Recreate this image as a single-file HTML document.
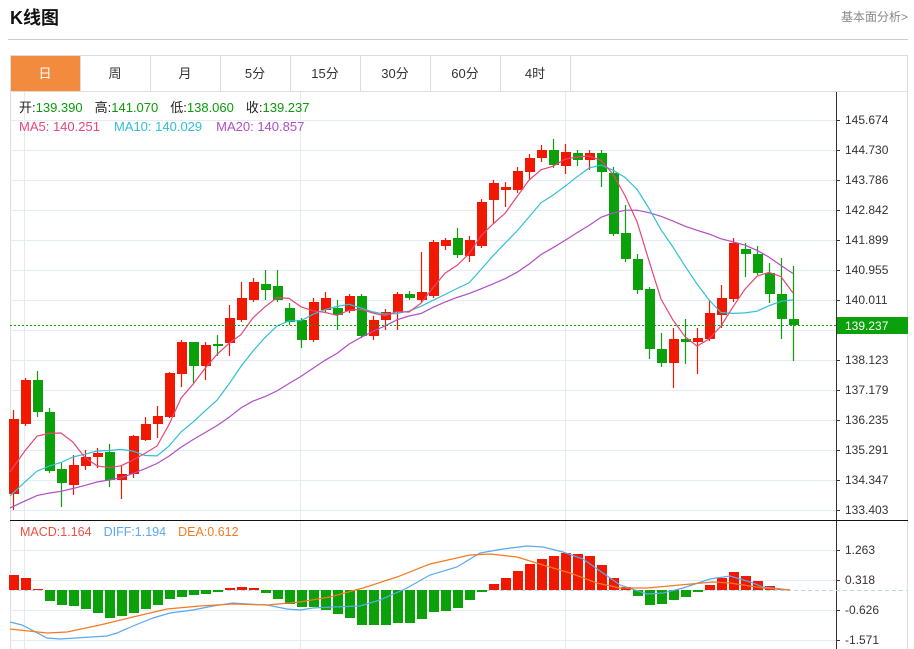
<!DOCTYPE html>
<html><head><meta charset="utf-8"><style>
body{margin:0;background:#fff;width:914px;height:649px;overflow:hidden;font-family:"Liberation Sans","Noto Sans CJK SC",sans-serif;}
svg{position:absolute;left:0;top:0}
</style></head><body>
<svg id="s" width="914" height="649" xmlns="http://www.w3.org/2000/svg" font-family="Liberation Sans, Noto Sans CJK SC, sans-serif">
<text x="10" y="24" font-size="18" font-weight="bold" fill="#111">K线图</text>
<text x="908" y="21" font-size="12" fill="#888" text-anchor="end">基本面分析&gt;</text>
<line x1="8" y1="39.5" x2="908" y2="39.5" stroke="#ccc"/>
<rect x="10.5" y="55.5" width="897" height="600" fill="none" stroke="#ddd"/>
<line x1="10" y1="91.5" x2="908" y2="91.5" stroke="#ddd"/>
<rect x="11" y="56" width="69" height="35" fill="#f38b3e"/>
<g id="tabs" font-size="13" fill="#333" text-anchor="middle"></g>
<g id="grid"></g>
<g id="plot"></g>
<text x="19" y="112" font-size="13"><tspan fill="#222">开:</tspan><tspan fill="#0a9a0a">139.390</tspan><tspan fill="#222" dx="12">高:</tspan><tspan fill="#0a9a0a">141.070</tspan><tspan fill="#222" dx="12">低:</tspan><tspan fill="#0a9a0a">138.060</tspan><tspan fill="#222" dx="12">收:</tspan><tspan fill="#0a9a0a">139.237</tspan></text>
<text x="19" y="131" font-size="13"><tspan fill="#e8457a">MA5: 140.251</tspan><tspan fill="#2fc0d8" dx="14">MA10: 140.029</tspan><tspan fill="#b04fc4" dx="14">MA20: 140.857</tspan></text>
<text x="20" y="536" font-size="12.5"><tspan fill="#f05040">MACD:1.164</tspan><tspan fill="#5aa9f0" dx="12">DIFF:1.194</tspan><tspan fill="#f47a20" dx="12">DEA:0.612</tspan></text>
</svg>
<script>
var NS="http://www.w3.org/2000/svg",S=document.getElementById('s');
function el(p,t,a,txt){var e=document.createElementNS(NS,t);for(var k in a)e.setAttribute(k,a[k]);if(txt!=null)e.textContent=txt;document.getElementById(p).appendChild(e);return e;}
var tabs=["日","周","月","5分","15分","30分","60分","4时"];
tabs.forEach(function(t,i){var x=10+70*i;el('tabs','text',{x:x+35,y:78,fill:i==0?'#fff':'#333'},t);el('tabs','line',{x1:x+70.5,y1:56,x2:x+70.5,y2:91,stroke:'#ddd'});});
for(var y=120;y<=510;y+=30)el('grid','line',{x1:10,y1:y+.5,x2:836,y2:y+.5,stroke:'#e3ecf3'});
[550,580,610,640].forEach(function(y){el('grid','line',{x1:10,y1:y+.5,x2:836,y2:y+.5,stroke:'#e3ecf3'});});
[24,300,565].forEach(function(x){el('grid','line',{x1:x+.5,y1:92,x2:x+.5,y2:649,stroke:'#e3ecf3'});});
el('grid','line',{x1:836.5,y1:92,x2:836.5,y2:649,stroke:'#333'});
el('grid','line',{x1:10,y1:520.5,x2:908,y2:520.5,stroke:'#111'});
var pl=["145.674","144.730","143.786","142.842","141.899","140.955","140.011","139.237","138.123","137.179","136.235","135.291","134.347","133.403"];
var py=[120,150,180,210,240,270,300,325,360,390,420,450,480,510];
pl.forEach(function(t,i){if(i==7)return;el('grid','line',{x1:836,y1:py[i]+.5,x2:840,y2:py[i]+.5,stroke:'#333'});el('grid','text',{x:845,y:py[i]+4,'font-size':12,fill:'#333'},t);});
[["1.263",550],["0.318",580],["-0.626",610],["-1.571",640]].forEach(function(a){el('grid','line',{x1:836,y1:a[1]+.5,x2:840,y2:a[1]+.5,stroke:'#333'});el('grid','text',{x:845,y:a[1]+4,'font-size':12,fill:'#333'},a[0]);});
var R='r',G='g';
var C=[[R,419,494,410,510],[R,380,424,378,426],[G,380,412,371,417],[G,412,471,408,473],[G,469,483,463,507],[R,465,485,455,495],[R,457,466,450,470],[R,453,457,448,468],[G,452,480,444,487],[R,474,480,465,499],
[R,436,474,435,478],[R,424,440,417,441],[R,416,424,406,438],[R,373,417,372,418],[R,342,374,340,387],[G,342,366,342,383],[R,345,366,342,380],[G,344,346,335,356],[R,318,343,305,356],[R,298,320,282,322],
[R,282,300,278,302],[G,284,290,270,300],[G,286,300,270,302],[G,308,322,303,325],[G,320,340,318,348],[R,302,340,298,342],[R,298,310,292,312],[G,308,315,300,330],[R,296,311,294,313],[G,296,336,294,338],
[R,320,336,316,340],[R,312,320,309,330],[R,294,312,292,330],[G,294,298,291,300],[R,292,300,252,302],[R,242,296,240,298],[R,240,246,238,250],[G,238,255,228,258],[R,240,256,236,262],[R,202,246,199,248],
[R,183,200,180,224],[R,187,190,182,207],[R,171,190,167,193],[R,158,172,154,180],[R,150,158,145,162],[G,150,165,139,168],[R,152,166,144,174],[G,153,160,150,166],[R,153,160,150,170],[G,153,172,150,187],
[G,173,234,167,236],[G,233,259,205,262],[G,259,290,254,294],[G,289,349,287,359],[G,349,363,333,367],[R,339,363,328,388],[G,339,342,319,364],[R,338,342,328,374],[R,313,339,300,341],[R,298,315,285,328],
[R,243,299,238,302],[G,249,254,243,277],[G,254,273,246,275],[G,273,294,263,303],[G,294,319,258,339],[G,319,325,266,361]];
var RC='#f01800',GC='#0aa10a';
var closes=[];
C.forEach(function(c,i){var x=13+12*i,col=c[0]==R?RC:GC;
el('plot','line',{x1:x+.5,y1:c[3],x2:x+.5,y2:c[4],stroke:col,'stroke-width':1.2});
el('plot','rect',{x:x-4,y:c[1],width:10,height:Math.max(1.5,c[2]-c[1]),fill:col});
closes.push(c[0]==R?c[1]:c[2]);});
var pre=[];for(var k=0;k<19;k++)pre.push(k<15?520:485);
var all=pre.concat(closes);
function ma(n,col){var pts=[];for(var i=0;i<closes.length;i++){var j=i+19,s=0;for(var k=0;k<n;k++)s+=all[j-k];pts.push((13+12*i)+','+(s/n).toFixed(1));}
pts[0]='10,'+pts[0].split(',')[1];
el('plot','polyline',{points:pts.join(' '),fill:'none',stroke:col,'stroke-width':1.2});}
ma(20,'#b04fc4');ma(10,'#2fc0d8');ma(5,'#e8457a');
el('plot','line',{x1:10,y1:325.5,x2:836,y2:325.5,stroke:'#0aa10a','stroke-dasharray':'2,2'});
el('plot','rect',{x:837,y:317,width:71,height:17,fill:'#0aa10a'});
el('plot','text',{x:845,y:330,'font-size':12,fill:'#fff'},'139.237');
el('plot','line',{x1:10,y1:590.5,x2:908,y2:590.5,stroke:'#b8d8ee','stroke-dasharray':'4,3'});
var M=[575,578,589,601,605,606,609,613,618,616,613,609,605,599,597,595,594,592,588,587,588,593,599,604,607,607,610,614,618,625,625,625,623,623,619,612,611,608,600,592,584,578,571,564,559,556,553,554,556,565,578,587,596,605,604,600,597,592,585,578,572,576,581,586,589,590];
M.forEach(function(v,i){var x=13+12*i,up=v<590;var h=Math.abs(v-590);if(h<1)return;
el('plot','rect',{x:x-4,y:up?v:590,width:10,height:h,fill:up?RC:GC});});
el('plot','polyline',{points:"10,622 22,625 47,638 60,639 107,636 117,633 133,626 153,618 170,613 193,610 213,606 233,603 247,604 267,605 287,609 300,610 313,608 333,607 360,606 380,600 407,588 430,575 457,567 480,553 503,549 527,546 543,547 563,552 583,559 603,573 620,585 647,594 663,593 683,588 710,579 730,576 750,582 763,587 790,590",fill:'none',stroke:'#5aa9f0','stroke-width':1.2});
el('plot','polyline',{points:"10,629 47,633 67,632 100,625 133,617 167,609 200,606 233,604 267,605 300,602 330,597 363,588 397,577 430,564 470,555 490,554 517,557 543,565 570,573 597,583 620,588 647,588 680,585 713,582 730,583 763,588 790,590",fill:'none',stroke:'#f47a20','stroke-width':1.2});
</script>
</body></html>
